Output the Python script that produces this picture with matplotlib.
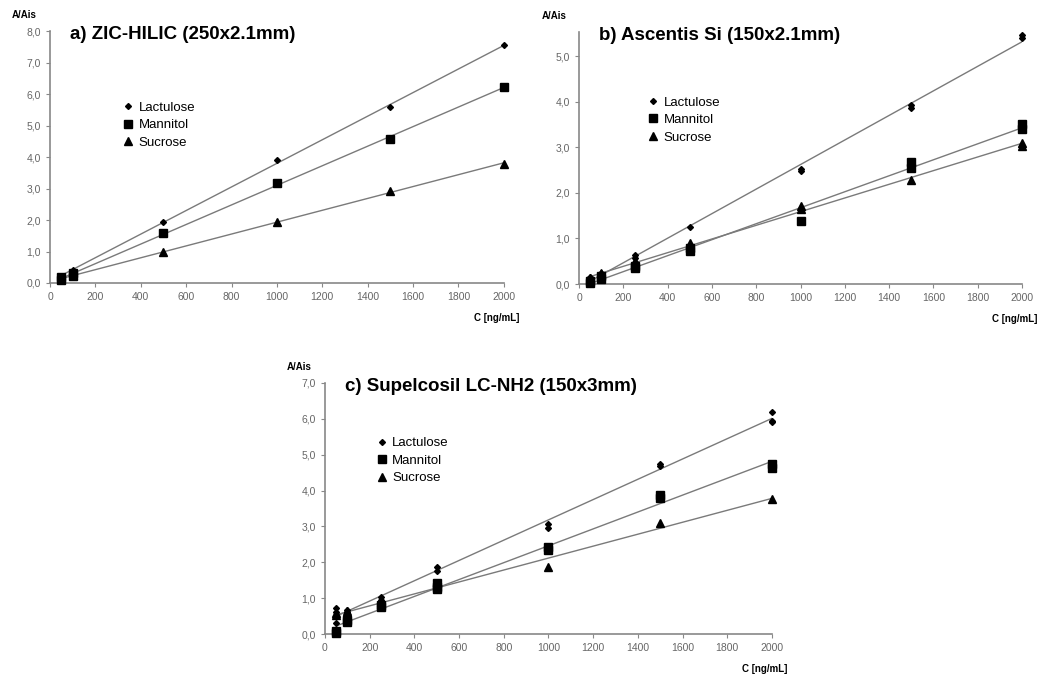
import numpy as np
import matplotlib
matplotlib.use("Agg")
import matplotlib.pyplot as plt

plt.rcParams['font.family'] = ['Liberation Sans', 'DejaVu Sans']

compounds = ["Lactulose", "Mannitol", "Sucrose"]
x_ticks = list(range(0, 2001, 200))

# a) ZIC-HILIC
a_lact_x = [50, 100, 500, 1000, 1500, 2000]
a_lact_y = [0.22, 0.40, 1.95, 3.90, 5.60, 7.55]
a_mann_x = [50, 50, 100, 100, 500, 1000, 1500, 2000]
a_mann_y = [0.20, 0.10, 0.32, 0.22, 1.60, 3.18, 4.58, 6.22]
a_sucr_x = [50, 100, 500, 1000, 1500, 2000]
a_sucr_y = [0.12, 0.25, 0.97, 1.95, 2.92, 3.78]

# b) Ascentis Si
b_lact_x = [50, 50, 100, 100, 250, 250, 500, 1000, 1000, 1500, 1500, 2000, 2000]
b_lact_y = [0.10, 0.16, 0.18, 0.24, 0.64, 0.58, 1.26, 2.53, 2.48, 3.93, 3.86, 5.47, 5.39]
b_mann_x = [50, 50, 100, 100, 250, 250, 500, 500, 1000, 1500, 1500, 2000, 2000]
b_mann_y = [0.03, 0.06, 0.12, 0.17, 0.40, 0.35, 0.78, 0.72, 1.38, 2.68, 2.55, 3.52, 3.40]
b_sucr_x = [50, 50, 100, 100, 250, 250, 500, 500, 1000, 1000, 1500, 2000, 2000]
b_sucr_y = [0.10, 0.14, 0.20, 0.24, 0.50, 0.44, 0.90, 0.82, 1.72, 1.64, 2.28, 3.10, 3.02]

# c) Supelcosil LC-NH2
c_lact_x = [50, 50, 50, 100, 100, 250, 250, 500, 500, 1000, 1000, 1500, 1500, 2000, 2000, 2000]
c_lact_y = [0.72, 0.62, 0.32, 0.68, 0.60, 1.02, 0.95, 1.88, 1.75, 3.06, 2.95, 4.75, 4.68, 6.18, 5.95, 5.90]
c_mann_x = [50, 50, 100, 100, 250, 250, 500, 500, 500, 1000, 1000, 1500, 1500, 2000, 2000]
c_mann_y = [0.08, 0.04, 0.38, 0.33, 0.82, 0.76, 1.42, 1.32, 1.25, 2.42, 2.35, 3.87, 3.78, 4.75, 4.62]
c_sucr_x = [50, 50, 100, 100, 250, 500, 1000, 1500, 2000]
c_sucr_y = [0.58, 0.52, 0.65, 0.58, 0.88, 1.35, 1.88, 3.10, 3.77]

markers = {"Lactulose": ("D", 3.0), "Mannitol": ("s", 6.0), "Sucrose": ("^", 5.5)}


def panel(ax, title, series, ymax, yticks, leg_pos):
    for name, (xs, ys) in zip(compounds, series):
        xs = np.array(xs, float)
        ys = np.array(ys, float)
        k, b = np.polyfit(xs, ys, 1)
        xl = np.array([xs.min(), xs.max()])
        ax.plot(xl, k * xl + b, color="#7a7a7a", lw=1.0, zorder=1)
        m, ms = markers[name]
        ax.plot(xs, ys, ls="none", marker=m, ms=ms, color="black", label=name,
                zorder=3, clip_on=False)
    ax.set_xlim(0, 2000)
    ax.set_ylim(0, ymax)
    ax.set_xticks(x_ticks)
    ax.set_yticks(yticks)
    ax.set_yticklabels([f"{v:.1f}".replace(".", ",") for v in yticks])
    for s in ["top", "right"]:
        ax.spines[s].set_visible(False)
    for s in ["left", "bottom"]:
        ax.spines[s].set_color("#888888")
        ax.spines[s].set_linewidth(1.2)
    ax.tick_params(labelsize=7.5, colors="#888888", labelcolor="#666666", length=3, width=0.8)
    ax.text(0.045, 0.985, title, transform=ax.transAxes, fontsize=13.5,
            fontweight="bold", va="center", ha="left")
    ax.text(-0.085, 1.065, "A/Ais", transform=ax.transAxes, fontsize=7,
            fontweight="bold", ha="left", va="center")
    ax.text(1.034, -0.138, "C [ng/mL]", transform=ax.transAxes, fontsize=7,
            fontweight="bold", ha="right", va="center")
    ax.legend(loc="upper left", bbox_to_anchor=leg_pos, frameon=False, fontsize=9.5,
              handlelength=0.8, handletextpad=0.4, borderpad=0, borderaxespad=0,
              labelspacing=0.4, markerscale=1.0)


fig = plt.figure(figsize=(10.53, 6.77), dpi=100)
ax_a = fig.add_axes([0.0475, 0.582, 0.431, 0.372])
ax_b = fig.add_axes([0.550, 0.5805, 0.4206, 0.3722])
ax_c = fig.add_axes([0.3086, 0.0635, 0.4245, 0.3708])

panel(ax_a, "a) ZIC-HILIC (250x2.1mm)",
      [(a_lact_x, a_lact_y), (a_mann_x, a_mann_y), (a_sucr_x, a_sucr_y)],
      8.0, np.arange(0, 8.01, 1.0), (0.16, 0.72))
panel(ax_b, "b) Ascentis Si (150x2.1mm)",
      [(b_lact_x, b_lact_y), (b_mann_x, b_mann_y), (b_sucr_x, b_sucr_y)],
      5.53, np.arange(0, 5.01, 1.0), (0.155, 0.745))
panel(ax_c, "c) Supelcosil LC-NH2 (150x3mm)",
      [(c_lact_x, c_lact_y), (c_mann_x, c_mann_y), (c_sucr_x, c_sucr_y)],
      7.0, np.arange(0, 7.01, 1.0), (0.115, 0.785))

fig.savefig("out.png", dpi=100)
